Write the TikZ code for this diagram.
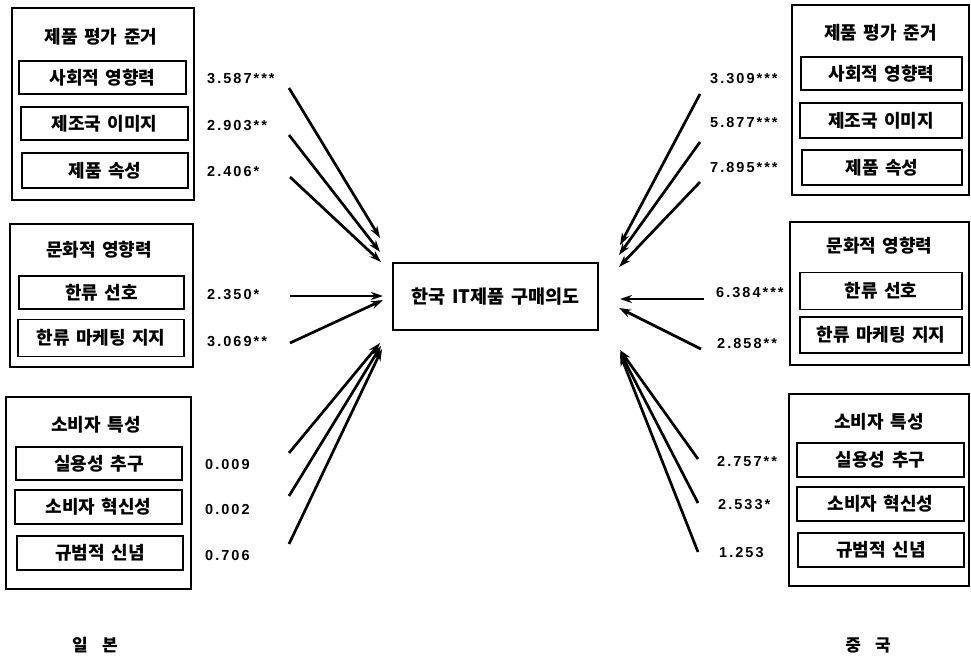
\documentclass[tikz,border=0pt]{standalone}
\usepackage{fontspec}
\setmainfont[WordSpace=1.6]{Noto Sans CJK KR}
\newfontfamily\numfont[LetterSpace=14]{Liberation Sans}
\usetikzlibrary{arrows.meta}
\tikzset{
  outer/.style={draw, line width=1.2pt, inner sep=0pt, rectangle},
  inbox/.style={draw, line width=1.2pt, inner sep=0pt, rectangle, minimum height=34pt, font=\bfseries\fontsize{18}{20}\selectfont},
  ttl/.style={inner sep=0pt, font=\bfseries\fontsize{18}{20}\selectfont},
  num/.style={anchor=west, inner sep=0pt, font=\numfont\bfseries\fontsize{14.5}{16}\selectfont},
  arr/.style={line width=2.7pt, -{Stealth[length=12pt,width=8pt]}},
}
\begin{document}
\begin{tikzpicture}[x=1pt,y=-1pt]
\useasboundingbox (0,0) rectangle (971,660);
\fill[white] (0,0) rectangle (971,660);

% ---------- centre ----------
\node[outer, minimum width=205pt, minimum height=67pt, font=\bfseries\fontsize{18.5}{20}\selectfont] (C) at (495.5,296.5) {한국 IT제품 구매의도};

% ---------- left (Japan) ----------
\node[outer, minimum width=182pt, minimum height=192pt] (L1) at (103,104) {};
\node[ttl] (L1t) at (101,37) {제품 평가 준거};
\node[inbox, minimum width=167pt, minimum height=33pt] (L1a) at (102.5,77.5) {사회적 영향력};
\node[inbox, minimum width=167pt, minimum height=33pt] (L1b) at (104.5,123.5) {제조국 이미지};
\node[inbox, minimum width=166pt, minimum height=35pt] (L1c) at (105,170.5) {제품 속성};

\node[outer, minimum width=183pt, minimum height=143pt] (L2) at (101.5,295.5) {};
\node[ttl] (L2t) at (99,250) {문화적 영향력};
\node[inbox, minimum width=165pt, minimum height=33pt] (L2a) at (101.5,292.5) {한류 선호};
\node[inbox, minimum width=166pt, minimum height=37pt] (L2b) at (101,338) {한류 마케팅 지지};

\node[outer, minimum width=185pt, minimum height=192pt] (L3) at (98.5,493) {};
\node[ttl] (L3t) at (96,425) {소비자 특성};
\node[inbox, minimum width=166pt, minimum height=33pt] (L3a) at (99,463.5) {실용성 추구};
\node[inbox, minimum width=167pt, minimum height=34pt] (L3b) at (98.5,507) {소비자 혁신성};
\node[inbox, minimum width=166pt, minimum height=34pt] (L3c) at (100,553) {규범적 신념};

\node[num] (n1) at (207,79) {3.587***};
\node[num] (n2) at (207,126) {2.903**};
\node[num] (n3) at (207,172) {2.406*};
\node[num] (n4) at (207,295) {2.350*};
\node[num] (n5) at (207,342) {3.069**};
\node[num] (n6) at (205,465) {0.009};
\node[num] (n7) at (205,510) {0.002};
\node[num] (n8) at (205,556) {0.706};

\node[ttl, font=\bfseries\fontsize{17}{19}\selectfont] (JP) at (95,645) {일\hspace{8pt} 본};

% ---------- right (China) ----------
\node[outer, minimum width=177pt, minimum height=190pt] (R1) at (880.5,100) {};
\node[ttl] (R1t) at (880.5,33) {제품 평가 준거};
\node[inbox, minimum width=161pt, minimum height=33pt] (R1a) at (881.5,73.5) {사회적 영향력};
\node[inbox, minimum width=162pt, minimum height=35pt] (R1b) at (881,120.5) {제조국 이미지};
\node[inbox, minimum width=160pt, minimum height=35pt] (R1c) at (882,167.5) {제품 속성};

\node[outer, minimum width=179pt, minimum height=143pt] (R2) at (879.5,293.5) {};
\node[ttl] (R2t) at (879.5,246) {문화적 영향력};
\node[inbox, minimum width=162pt, minimum height=37pt] (R2a) at (881,291) {한류 선호};
\node[inbox, minimum width=162pt, minimum height=36pt] (R2b) at (881,335) {한류 마케팅 지지};

\node[outer, minimum width=180pt, minimum height=192pt] (R3) at (879,490) {};
\node[ttl] (R3t) at (879,422) {소비자 특성};
\node[inbox, minimum width=167pt, minimum height=34pt] (R3a) at (880.5,460) {실용성 추구};
\node[inbox, minimum width=167pt, minimum height=34pt] (R3b) at (880.5,504) {소비자 혁신성};
\node[inbox, minimum width=166pt, minimum height=34pt] (R3c) at (881,550) {규범적 신념};

\node[num] (m1) at (710,79) {3.309***};
\node[num] (m2) at (710,123) {5.877***};
\node[num] (m3) at (710,168) {7.895***};
\node[num] (m4) at (716,293) {6.384***};
\node[num] (m5) at (717,344) {2.858**};
\node[num] (m6) at (717,462) {2.757**};
\node[num] (m7) at (718,505) {2.533*};
\node[num] (m8) at (719,553) {1.253};

\node[ttl, font=\bfseries\fontsize{17}{19}\selectfont] (CN) at (868,645) {중\hspace{8pt} 국};

% ---------- arrow end points ----------
\coordinate (a1s) at (289,88);  \coordinate (a1e) at (380,238);
\coordinate (a2s) at (289,135); \coordinate (a2e) at (380,252);
\coordinate (a3s) at (290,177); \coordinate (a3e) at (381,262);
\coordinate (a4s) at (290,296); \coordinate (a4e) at (383,296);
\coordinate (a5s) at (290,343); \coordinate (a5e) at (383,300);
\coordinate (a6s) at (289,453); \coordinate (a6e) at (380,343);
\coordinate (a7s) at (289,496); \coordinate (a7e) at (381,346);
\coordinate (a8s) at (289,544); \coordinate (a8e) at (382,349);

\coordinate (b1s) at (700,94);  \coordinate (b1e) at (620,245);
\coordinate (b2s) at (700,142); \coordinate (b2e) at (619,255);
\coordinate (b3s) at (700,182); \coordinate (b3e) at (619,267);
\coordinate (b4s) at (704,299); \coordinate (b4e) at (620,299);
\coordinate (b5s) at (701,349); \coordinate (b5e) at (619,308);
\coordinate (b6s) at (698,459); \coordinate (b6e) at (620,350);
\coordinate (b7s) at (698,503); \coordinate (b7e) at (620,352);
\coordinate (b8s) at (698,552); \coordinate (b8e) at (620,354);

\foreach \i in {1,...,8} {
  \draw[arr] (a\i s) -- (a\i e);
  \draw[arr] (b\i s) -- (b\i e);
}
\end{tikzpicture}
\end{document}
